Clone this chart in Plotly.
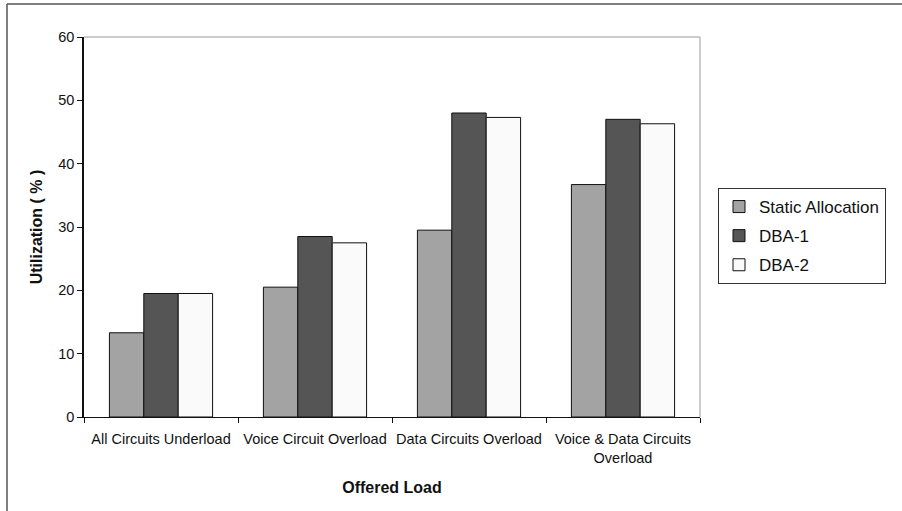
import plotly.graph_objects as go

categories = ["All Circuits Underload", "Voice Circuit Overload",
              "Data Circuits Overload", "Voice & Data Circuits<br>Overload"]
static_allocation = [13.3, 20.5, 29.5, 36.7]
dba_1 = [19.5, 28.5, 48.0, 47.0]
dba_2 = [19.5, 27.5, 47.3, 46.3]
y_ticks = [0, 10, 20, 30, 40, 50, 60]

series = [
    ("Static Allocation", static_allocation, "#a3a3a3"),
    ("DBA-1", dba_1, "#555555"),
    ("DBA-2", dba_2, "#fafafa"),
]

W, H = 902, 511
L, R, T, B = 84, 202, 37, 94
pw, ph = W - L - R, H - T - B

fig = go.Figure()
for name, vals, color in series:
    fig.add_trace(go.Bar(
        name=name, x=categories, y=vals, legendgroup=name,
        marker=dict(color=color, line=dict(color="#111111", width=1)),
    ))

font = "Liberation Sans, Arial, sans-serif"

def px_x(x):
    return (x - L) / pw

def px_y(y):
    return (H - B - y) / ph

fig.update_layout(
    width=W, height=H,
    margin=dict(l=L, r=R, t=T, b=B, autoexpand=False),
    paper_bgcolor="white", plot_bgcolor="white",
    barmode="group", bargap=0.33, bargroupgap=0,
    font=dict(family=font, size=14.5, color="#111111"),
    showlegend=True,
    legend=dict(
        x=px_x(718), y=px_y(188), xanchor="left", yanchor="top",
        bordercolor="#333333", borderwidth=1, bgcolor="white",
        font=dict(family=font, size=17, color="#111111"),
        traceorder="grouped", itemwidth=30, tracegroupgap=4,
    ),
    xaxis=dict(
        showline=True, linecolor="#111111", linewidth=1,
        ticks="outside", ticklen=5, tickcolor="#111111",
        tickson="boundaries", showgrid=False, ticklabelstandoff=9,
        tickangle=0, automargin=False,
        title=dict(text="<b>Offered Load</b>", font=dict(size=16), standoff=16),
    ),
    yaxis=dict(
        range=[0, 60], tickvals=y_ticks, showline=True,
        linecolor="#111111", linewidth=1.5,
        ticks="outside", ticklen=5, tickcolor="#111111",
        showgrid=False, zeroline=False, automargin=False,
        title=dict(text="<b>Utilization ( % )</b>", font=dict(size=16), standoff=12),
    ),
    shapes=[
        # plot area top and right edges
        dict(type="line", xref="paper", yref="paper", x0=0, x1=1, y0=1, y1=1,
             line=dict(color="#9a9a9a", width=1)),
        dict(type="line", xref="paper", yref="paper", x0=1, x1=1, y0=0, y1=1,
             line=dict(color="#9a9a9a", width=1)),
        # outer chart frame
        dict(type="line", xref="paper", yref="paper",
             x0=px_x(7), x1=px_x(W + 5), y0=px_y(4), y1=px_y(4),
             line=dict(color="#555555", width=1.5)),
        dict(type="line", xref="paper", yref="paper",
             x0=px_x(7), x1=px_x(7), y0=px_y(4), y1=px_y(H + 5),
             line=dict(color="#555555", width=1.5)),
    ],
)

fig.write_html("out.html")
